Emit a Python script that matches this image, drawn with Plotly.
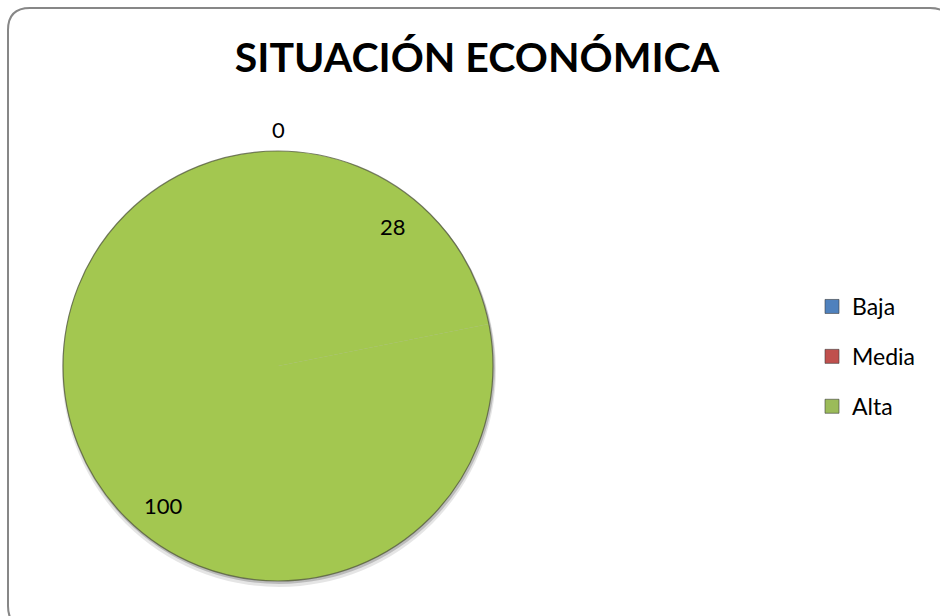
import math
import plotly.graph_objects as go

# Data
categories = ["Baja", "Media", "Alta"]
values = [0, 28, 100]
legend_colors = ["#4F81BD", "#C0504D", "#9BBB59"]
slice_colors = ["#4F81BD", "#A3C750", "#A3C750"]
title_text = "SITUACIÓN ECONÓMICA"

W, H = 940, 616
FONT = "Lato"

# Pie placement in pixels
cx, cy, r = 278, 366, 215


def px(x):
    return x / W


def py(y):
    return 1 - y / H


fig = go.Figure()

fig.add_trace(go.Pie(
    labels=categories,
    values=values,
    sort=False,
    direction="clockwise",
    rotation=0,
    marker=dict(colors=slice_colors, line=dict(width=0)),
    textinfo="none",
    hoverinfo="label+value",
    showlegend=False,
    domain=dict(x=[px(cx - r), px(cx + r)], y=[py(cy + r), py(cy - r)]),
))

# Legend entries
for name, col in zip(categories, legend_colors):
    fig.add_trace(go.Scatter(
        x=[None], y=[None], mode="markers", name=name,
        legendgroup=name,
        marker=dict(symbol="square", size=14, color=col,
                    line=dict(color="rgba(60,60,60,0.6)", width=1)),
    ))

# Value labels placed at slice mid-angles
total = sum(values)
cum = 0
annotations = []
for v in values:
    mid = (cum + v / 2) / total * 2 * math.pi
    cum += v
    f = 1.1 if v == 0 else 0.84
    lx = cx + f * r * math.sin(mid)
    ly = cy - f * r * math.cos(mid)
    annotations.append(dict(
        x=px(lx), y=py(ly), xref="paper", yref="paper",
        text=str(v), showarrow=False,
        font=dict(family=FONT, size=22, color="#000000"),
        xanchor="center", yanchor="middle",
    ))

# Chart frame with rounded corners
x0, y0, x1, y1, rad = 8, 8, 952, 628, 22
frame_path = (
    f"M {px(x0)},{py(y0 + rad)} "
    f"Q {px(x0)},{py(y0)} {px(x0 + rad)},{py(y0)} "
    f"L {px(x1 - rad)},{py(y0)} "
    f"Q {px(x1)},{py(y0)} {px(x1)},{py(y0 + rad)} "
    f"L {px(x1)},{py(y1 - rad)} "
    f"Q {px(x1)},{py(y1)} {px(x1 - rad)},{py(y1)} "
    f"L {px(x0 + rad)},{py(y1)} "
    f"Q {px(x0)},{py(y1)} {px(x0)},{py(y1 - rad)} Z"
)

shapes = [
    # soft drop shadow under the pie
    dict(type="circle", xref="paper", yref="paper", layer="below",
         x0=px(cx - r - 1), x1=px(cx + r + 3), y0=py(cy + r + 6), y1=py(cy - r + 2),
         fillcolor="rgba(0,0,0,0.10)", line=dict(width=0)),
    dict(type="circle", xref="paper", yref="paper", layer="below",
         x0=px(cx - r), x1=px(cx + r + 2), y0=py(cy + r + 3), y1=py(cy - r + 1),
         fillcolor="rgba(0,0,0,0.18)", line=dict(width=0)),
    # pie outline
    dict(type="circle", xref="paper", yref="paper",
         x0=px(cx - r), x1=px(cx + r), y0=py(cy + r), y1=py(cy - r),
         line=dict(color="rgba(80,85,60,0.75)", width=1.2)),
    dict(type="path", xref="paper", yref="paper", path=frame_path,
         line=dict(color="#878787", width=2)),
]

fig.update_layout(
    width=W, height=H,
    margin=dict(l=0, r=0, t=0, b=0),
    paper_bgcolor="white", plot_bgcolor="white",
    title=dict(text=f"<b>{title_text}</b>", x=px(477), y=py(58),
               xanchor="center", yanchor="middle",
               font=dict(family=FONT, size=41, color="#000000")),
    xaxis=dict(visible=False), yaxis=dict(visible=False),
    legend=dict(x=px(812), y=py(285), xanchor="left", yanchor="top",
                font=dict(family=FONT, size=23, color="#000000"),
                tracegroupgap=17, itemwidth=30, bgcolor="rgba(0,0,0,0)"),
    annotations=annotations,
    shapes=shapes,
)

fig.write_html("out.html")
